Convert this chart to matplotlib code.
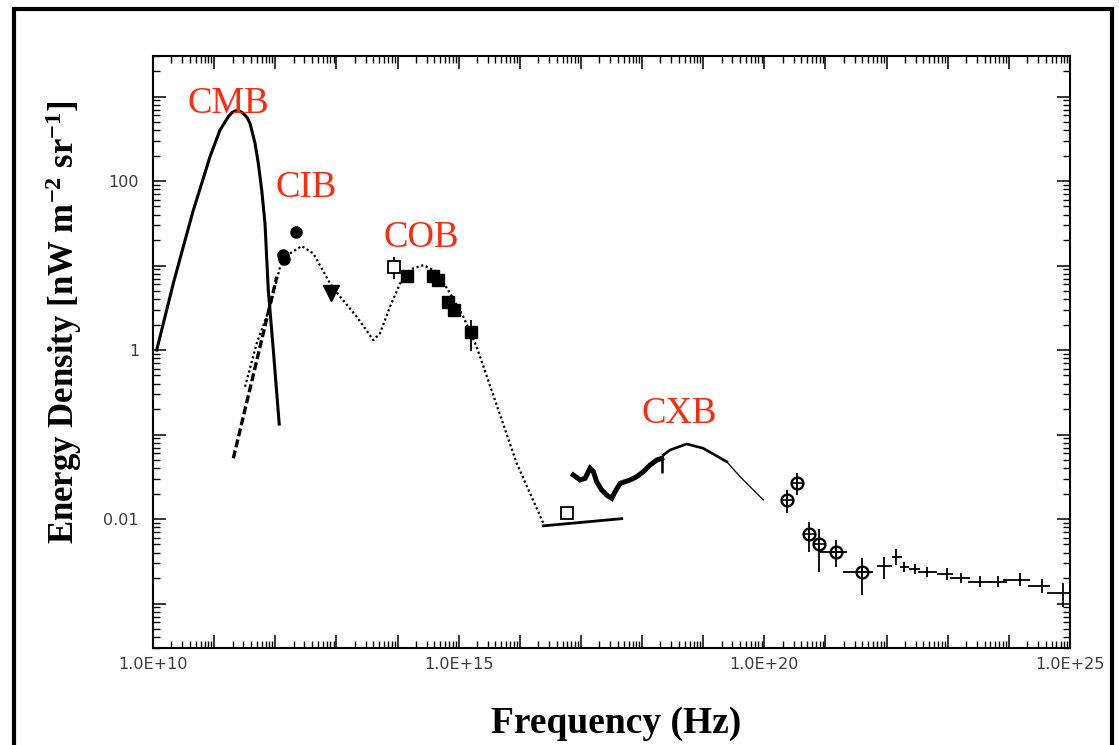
import matplotlib
matplotlib.use("Agg")
import matplotlib.pyplot as plt
import numpy as np
from matplotlib.ticker import FixedLocator, LogLocator, FuncFormatter, NullFormatter
from matplotlib.lines import Line2D

plt.rcParams["mathtext.default"] = "regular"

# ---------------- data ----------------
# Cosmic microwave background spectrum (Hz, nW m^-2 sr^-1)
cmb_freq = [1.15e10, 2.15e10, 3.13e10, 4.56e10, 6.27e10, 8.55e10, 1.25e11, 1.71e11,
            1.96e11, 2.28e11, 2.6e11, 3.0e11, 3.45e11, 3.86e11, 4.67e11, 5.28e11,
            6.0e11, 6.79e11, 7.69e11, 9.29e11, 1.16e12]
cmb_val = [1.0, 6.15, 16.7, 45, 94, 194, 402, 577, 647, 679, 673, 632, 564, 482,
           279, 162, 78, 31.6, 5.1, 1.0, 0.133]

# Far-infrared power-law (dashed)
fir_freq = [2.06e11, 1.06e12]
fir_val = [0.0523, 7.37]

# CIB + COB model (dotted)
ebl_freq = [3.2e11, 4.97e11, 8.2e11, 1.2e12, 1.74e12, 2.71e12, 4.19e12, 7.87e12,
            1.15e13, 2.15e13, 4.02e13, 5.17e13, 7.53e13, 1.1e14, 1.81e14, 2.64e14,
            4.38e14, 7.22e14, 1.19e15, 1.97e15, 8.91e15, 2.43e16]
ebl_val = [0.368, 1.2, 3.25, 9.7, 13.9, 17.0, 13.9, 6.15, 4.28, 2.48, 1.31, 1.58,
           3.25, 6.15, 9.27, 10.1, 8.45, 4.69, 2.48, 1.09, 0.0456, 0.0089]

# Extreme-UV / soft X-ray segment
uv_freq = [2.43e16, 4.65e17]
uv_val = [0.0083, 0.0101]
uv_point_freq = [5.86e16]
uv_point_val = [0.0117]
uv_point_lo = [0.0108]
uv_point_hi = [0.0127]

# CIB measurements
cib_circ_freq = [1.32e12, 1.39e12, 2.18e12]
cib_circ_val = [13.3, 11.8, 24.7]
cib_tri_freq = [8.17e12]
cib_tri_val = [4.77]

# COB measurements
cob_open_freq = [8.85e13]
cob_open_val = [9.69]
cob_open_lo = [6.87]
cob_open_hi = [12.5]
cob_sq_freq = [1.41e14, 3.76e14, 4.64e14, 6.77e14, 8.39e14, 1.59e15]
cob_sq_val = [7.5, 7.5, 6.72, 3.73, 2.97, 1.65]
cob_sq_lo = [7.5, 7.5, 6.72, 3.73, 2.97, 0.98]
cob_sq_hi = [7.5, 7.5, 6.72, 3.73, 2.97, 2.26]

# CXB measured band
cxb_freq = [7.5e16, 9.66e16, 1.17e17, 1.41e17, 1.6e17, 1.81e17, 2.19e17, 2.64e17,
            3.19e17, 3.61e17, 4.37e17, 6.37e17, 8.19e17, 1.05e18, 1.35e18, 1.74e18,
            2.1e18]
cxb_val = [0.0332, 0.029, 0.0303, 0.0398, 0.0363, 0.0276, 0.022, 0.0192, 0.0176,
           0.021, 0.0264, 0.029, 0.0317, 0.0363, 0.0435, 0.0499, 0.0522]
cxb_end_freq = [2.15e18]
cxb_end_val = [0.0450]
cxb_end_lo = [0.0348]
cxb_end_hi = [0.0546]

# CXB model
cxbm_freq = [2.23e18, 2.87e18, 5.38e18, 1.0e19, 2.43e19, 4.01e19, 9.64e19]
cxbm_val = [0.0572, 0.0656, 0.0773, 0.0687, 0.0476, 0.0317, 0.0168]

# Gamma-ray points (open circles)
gc_freq = [2.32e20, 3.39e20, 5.38e20, 7.94e20, 1.49e21, 3.92e21]
gc_val = [0.0168, 0.0264, 0.00664, 0.00502, 0.0041, 0.00238]
gc_lo = [0.01167, 0.0192, 0.0041, 0.00238, 0.00273, 0.00126]
gc_hi = [0.0220, 0.0348, 0.0093, 0.00762, 0.00564, 0.00343]
gc_fmin = [2.32e20, 3.39e20, 5.38e20, 7.94e20, 8.15e20, 1.91e21]
gc_fmax = [2.32e20, 3.39e20, 5.38e20, 7.94e20, 2.23e21, 6.07e21]

# Gamma-ray points (crosses)
gx_freq = [9.2e21, 1.4e22, 1.95e22, 2.92e22, 4.54e22, 9.64e22, 1.65e23, 3.38e23,
           6.73e23, 1.52e24, 3.45e24, 7.62e24]
gx_val = [0.00278, 0.00352, 0.00273, 0.00254, 0.00238, 0.00222, 0.00199, 0.00181,
          0.00181, 0.0019, 0.00161, 0.00132]
gx_lo = [0.00193, 0.00286, 0.00238, 0.00221, 0.00208, 0.00192, 0.00174, 0.00158,
         0.00158, 0.00160, 0.00134, 0.00092]
gx_hi = [0.00358, 0.00438, 0.00313, 0.00291, 0.00273, 0.00261, 0.00228, 0.00211,
         0.00211, 0.00228, 0.00193, 0.00173]
gx_fmin = [6.89e21, 1.21e22, 1.66e22, 2.36e22, 3.3e22, 6.6e22, 1.09e23, 2.17e23,
           4.92e23, 8.13e23, 2.08e24, 4.17e24]
gx_fmax = [1.21e22, 1.77e22, 2.36e22, 3.49e22, 6.6e22, 1.24e23, 2.32e23, 5.25e23,
           9.23e23, 2.22e24, 4.72e24, 1.0e25]

# Axis ticks and component names
x_label_ticks = [1e10, 1e15, 1e20, 1e25]
x_label_text = ["1.0E+10", "1.0E+15", "1.0E+20", "1.0E+25"]
y_label_ticks = [0.01, 1, 100]
y_label_text = ["0.01", "1", "100"]
band_names = ["CMB", "CIB", "COB", "CXB"]


def yerr_of(val, lo, hi):
    v = np.asarray(val)
    return [v - np.asarray(lo), np.asarray(hi) - v]


def xerr_of(freq, fmin, fmax):
    f = np.asarray(freq)
    return [f - np.asarray(fmin), np.asarray(fmax) - f]


# ---------------- figure ----------------
fig = plt.figure(figsize=(11.19, 7.45), dpi=100)
ax = fig.add_axes([0.13673, 0.13060, 0.81948, 0.79396])
ax.set_xscale("log")
ax.set_yscale("log")
ax.set_xlim(1e10, 1e25)
ax.set_ylim(3e-4, 3e3)

k = "black"
ax.plot(cmb_freq, cmb_val, color=k, lw=2.2, solid_joinstyle="round")
ax.plot(fir_freq, fir_val, color=k, lw=2.4, dashes=(2.4, 1.0))
ax.plot(ebl_freq, ebl_val, color=k, lw=1.6, dashes=(1.0, 1.2))
ax.plot(uv_freq, uv_val, color=k, lw=2.0)
ax.errorbar(uv_point_freq, uv_point_val, yerr=yerr_of(uv_point_val, uv_point_lo, uv_point_hi),
            fmt="s", ms=8, mfc="white", mec=k, mew=1.3, ecolor=k, elinewidth=1.2, capsize=0)

ax.plot(cib_circ_freq, cib_circ_val, "o", color=k, ms=8)
ax.plot(cib_tri_freq, cib_tri_val, "v", color=k, ms=11)

ax.errorbar(cob_open_freq, cob_open_val, yerr=yerr_of(cob_open_val, cob_open_lo, cob_open_hi),
            fmt="s", ms=8, mfc="white", mec=k, mew=1.3, ecolor=k, elinewidth=1.3, capsize=0)
ax.errorbar(cob_sq_freq, cob_sq_val, yerr=yerr_of(cob_sq_val, cob_sq_lo, cob_sq_hi),
            fmt="s", ms=8, color=k, ecolor=k, elinewidth=1.3, capsize=0)

ax.plot(cxb_freq, cxb_val, color=k, lw=3.6, solid_joinstyle="miter")
ax.errorbar(cxb_end_freq, cxb_end_val, yerr=yerr_of(cxb_end_val, cxb_end_lo, cxb_end_hi),
            fmt="none", ecolor=k, elinewidth=1.8, capsize=0)
ax.plot(cxbm_freq[:5], cxbm_val[:5], color=k, lw=1.9)
ax.plot(cxbm_freq[4:], cxbm_val[4:], color=k, lw=0.9)

ax.errorbar(gc_freq, gc_val, yerr=yerr_of(gc_val, gc_lo, gc_hi),
            xerr=xerr_of(gc_freq, gc_fmin, gc_fmax),
            fmt="o", ms=8.5, mfc="none", mec=k, mew=1.7, ecolor=k, elinewidth=1.3, capsize=0)
ax.plot(gc_freq, gc_val, "+", color=k, ms=8.5, mew=1.2)

ax.errorbar(gx_freq, gx_val, yerr=yerr_of(gx_val, gx_lo, gx_hi),
            xerr=xerr_of(gx_freq, gx_fmin, gx_fmax),
            fmt="none", ecolor=k, elinewidth=1.3, capsize=0)

# component names
red = "#ff2a10"
name_pos = [(0.0818, 0.904), (0.1669, 0.7612), (0.2928, 0.678), (0.5736, 0.3804)]
for name, (px, py) in zip(band_names, name_pos):
    ax.text(px, py, name, transform=ax.transAxes, color=red, fontsize=26.5,
            family="Liberation Serif", ha="center", va="baseline")

# ticks
x_map = {int(round(np.log10(v))): s for v, s in zip(x_label_ticks, x_label_text)}
y_map = {int(round(np.log10(v))): s for v, s in zip(y_label_ticks, y_label_text)}
ax.xaxis.set_major_locator(FixedLocator(10.0 ** np.arange(10, 26)))
ax.yaxis.set_major_locator(FixedLocator(10.0 ** np.arange(-4, 4)))
ax.xaxis.set_minor_locator(LogLocator(base=10, subs=np.arange(2, 10), numticks=100))
ax.yaxis.set_minor_locator(LogLocator(base=10, subs=np.arange(2, 10), numticks=100))
ax.xaxis.set_major_formatter(FuncFormatter(lambda v, p: x_map.get(int(round(np.log10(v))), "")))
ax.yaxis.set_major_formatter(FuncFormatter(lambda v, p: y_map.get(int(round(np.log10(v))), "")))
ax.xaxis.set_minor_formatter(NullFormatter())
ax.yaxis.set_minor_formatter(NullFormatter())
ax.tick_params(which="both", direction="in", top=True, right=True, colors=k)
ax.tick_params(which="major", length=9.5, width=1.1)
ax.tick_params(which="minor", length=5, width=1.0)
ax.tick_params(axis="x", which="major", pad=7, labelsize=11.5, labelcolor="#3a3a3a")
ax.tick_params(axis="y", which="major", pad=10, labelsize=11.5, labelcolor="#3a3a3a")
for sp in ax.spines.values():
    sp.set_linewidth(1.5)

# axis titles
fig.text(616 / 1119, 1 - 733 / 745, "Frequency (Hz)", family="Liberation Serif",
         fontweight="bold", fontsize=27, ha="center", va="baseline")
fig.text(74 / 1119, 1 - 322 / 745, r"Energy Density [nW m$^{-2}$ sr$^{-1}$]",
         family="Liberation Serif", fontweight="bold", fontsize=25, rotation=90,
         rotation_mode="anchor", ha="center", va="baseline")

# outer frame
fig.add_artist(Line2D([0.01251, 0.01251, 0.99419, 0.99419], [-0.05, 0.98792, 0.98792, -0.05],
                      transform=fig.transFigure, color=k, lw=3.0, solid_joinstyle="miter"))

fig.savefig("out.png", dpi=100)
